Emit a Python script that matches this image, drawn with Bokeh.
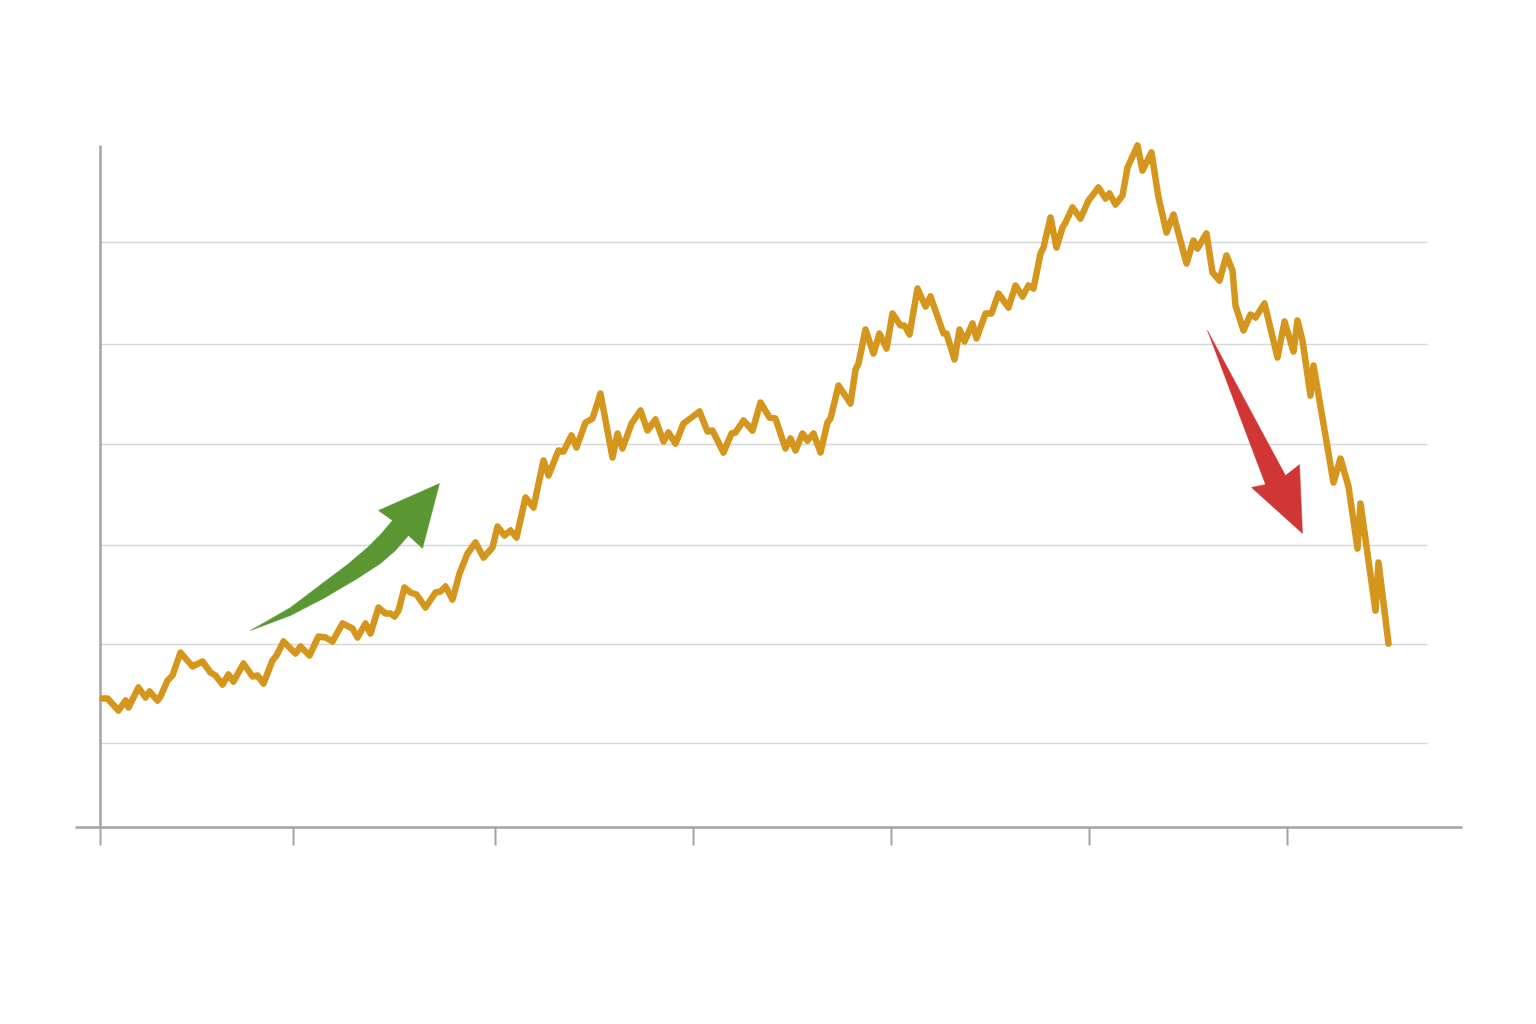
from bokeh.plotting import figure
from bokeh.models import Range1d, FixedTicker, CustomJSTickFormatter
from bokeh.embed import file_html
from bokeh.resources import INLINE

# ---- data: day index and price ----
day = [2, 7, 18, 25, 28, 38, 45, 49, 57, 60,
       67, 72, 80, 92, 102, 110, 115, 122, 128, 133,
       143, 152, 157, 163, 172, 176, 183, 195, 200, 209,
       218, 225, 232, 242, 252, 257, 265, 270, 278, 285,
       290, 294, 298, 304, 310, 316, 325, 335, 340, 345,
       352, 359, 367, 375, 383, 392, 397, 404, 410, 416,
       425, 433, 443, 448, 458, 463, 471, 476, 485, 492,
       500, 512, 517, 522, 531, 540, 547, 555, 563, 568,
       575, 583, 599, 607, 612, 623, 631, 635, 643, 652,
       660, 669, 675, 685, 690, 695, 702, 707, 713, 720,
       727, 730, 738, 750, 755, 758, 765, 773, 779, 786,
       792, 800, 804, 809, 817, 825, 830, 843, 846, 854,
       859, 864, 872, 876, 885, 891, 898, 908, 915, 922,
       928, 933, 940, 943, 950, 956, 962, 965, 972, 980,
       988, 998, 1005, 1009, 1015, 1022, 1027, 1037, 1042, 1051,
       1058, 1066, 1073, 1086, 1093, 1097, 1106, 1112, 1119, 1126,
       1132, 1135, 1143, 1150, 1155, 1164, 1177, 1184, 1193,
       1197, 1202, 1210, 1213, 1233, 1240, 1248, 1257, 1260, 1275,
       1278, 1288]
price = [129, 129, 117, 127, 120, 140, 130, 136, 127, 131,
         147, 152, 175, 161, 166, 155, 152, 143, 153, 146,
         164, 151, 152, 144, 167, 172, 186, 174, 181, 172,
         191, 190, 186, 204, 199, 190, 204, 194, 220, 214,
         214, 211, 217, 240, 235, 233, 220, 235, 236, 241,
         228, 254, 274, 285, 270, 280, 301, 292, 297, 290,
         330, 320, 367, 352, 377, 376, 392, 380, 405, 409,
         434, 370, 394, 379, 404, 417, 397, 408, 386, 395,
         384, 404, 416, 396, 397, 375, 394, 395, 407, 397,
         425, 410, 409, 379, 389, 377, 394, 387, 394, 375,
         405, 409, 442, 424, 458, 464, 498, 474, 494, 479,
         514, 502, 502, 493, 539, 521, 531, 494, 494, 468,
         498, 486, 504, 489, 514, 514, 534, 520, 542, 531,
         542, 539, 574, 580, 610, 580, 600, 605, 620, 609,
         627, 640, 629, 634, 623, 632, 660, 682, 657, 675,
         630, 595, 613, 564, 587, 579, 594, 555, 547, 572,
         557, 522, 497, 513, 510, 524, 470, 506, 476,
         507, 487, 432, 462, 345, 369, 341, 279, 324, 217,
         265, 184]

x_ticks = [0, 193, 395, 593, 791, 989, 1187]
grid_levels = [84, 183, 282, 383, 483, 585]
grid_end = 1327
y_axis_top = 682

# annotation arrows (outline in data units)
up_arrow_x = [150, 190, 223, 247, 267, 280, 292, 278, 339, 322, 308, 295, 280, 257, 223, 190]
up_arrow_y = [197, 220, 245, 263, 280, 293, 307, 317, 344, 279, 292, 277, 264, 249, 229, 212]
down_arrow_x = [1107, 1185, 1199, 1202, 1151, 1165]
down_arrow_y = [497, 352, 363, 294, 340, 343]

LINE_COLOR = "#D4961C"
AXIS_COLOR = "#A3A3A3"
GRID_COLOR = "#D6D6D6"

p = figure(width=1520, height=1000, output_backend="svg", toolbar_location=None,
           x_range=Range1d(-25, 1362), y_range=Range1d(0, 697),
           frame_width=1387, frame_height=697,
           min_border_left=75, min_border_top=130, min_border_right=58, min_border_bottom=173,
           y_axis_location=None)
p.outline_line_color = None
p.background_fill_color = "white"
p.border_fill_color = "white"
p.xgrid.visible = False
p.ygrid.visible = False

ax = p.xaxis[0]
ax.ticker = FixedTicker(ticks=x_ticks)
ax.formatter = CustomJSTickFormatter(code="return ''")
ax.axis_line_color = AXIS_COLOR
ax.axis_line_width = 2.5
ax.major_tick_line_color = AXIS_COLOR
ax.major_tick_line_width = 2
ax.major_tick_in = 0
ax.major_tick_out = 18
ax.minor_tick_line_color = None

# gridlines
p.segment(x0=[0] * len(grid_levels), x1=[grid_end] * len(grid_levels),
          y0=grid_levels, y1=grid_levels, line_color=GRID_COLOR, line_width=1.3)
# y axis line
p.segment(x0=[0], x1=[0], y0=[0], y1=[y_axis_top], line_color=AXIS_COLOR, line_width=2.5)

# arrows
p.patch(up_arrow_x, up_arrow_y, fill_color="#5A9632", line_color="#5A9632", line_width=0.5)
p.patch(down_arrow_x, down_arrow_y, fill_color="#D13636", line_color="#D13636", line_width=0.5)

# price line
p.line(day, price, line_color=LINE_COLOR, line_width=6.5, line_join="round", line_cap="round")

open("out.html", "w").write(file_html(p, INLINE))
